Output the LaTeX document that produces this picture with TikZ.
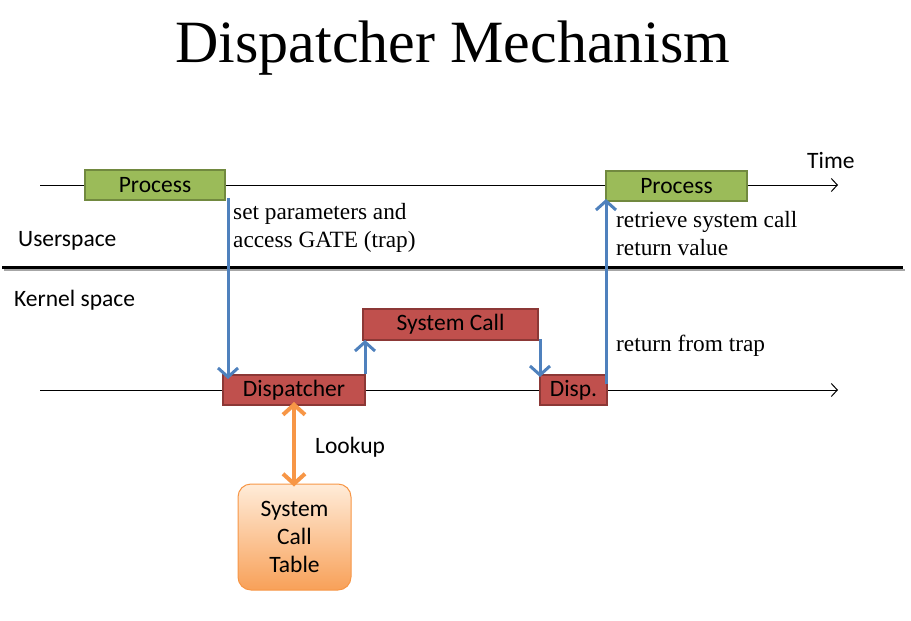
\documentclass[tikz,border=0pt]{standalone}
\usepackage{fontspec}
\setmainfont{Liberation Serif}
\setsansfont{Carlito}
\usepackage{xcolor}
\usetikzlibrary{arrows.meta}

\definecolor{procfill}{HTML}{9BBB59}
\definecolor{procline}{HTML}{71893F}
\definecolor{kernfill}{HTML}{C0504D}
\definecolor{kernline}{HTML}{8C3836}
\definecolor{callblue}{HTML}{4F81BD}
\definecolor{lookorange}{HTML}{F79646}

\tikzset{
  procbox/.style={draw=procline,fill=procfill,line width=2pt,minimum height=30pt,
    font=\sffamily\fontsize{23.5}{26}\selectfont,inner sep=0pt},
  kernbox/.style={draw=kernline,fill=kernfill,line width=2pt,minimum height=30pt,
    font=\sffamily\fontsize{23.5}{26}\selectfont,inner sep=0pt},
  tablebox/.style={draw=lookorange,line width=1pt,rounded corners=13pt,
    top color=orange!15!white,bottom color=lookorange!90!white,
    minimum width=113pt,minimum height=106pt,align=center,
    font=\sffamily\fontsize{23.5}{28}\selectfont},
  callarrow/.style={callblue,line width=3pt,
    -{Straight Barb[length=9pt,width=20pt,line width=3pt]}},
  lookarrow/.style={lookorange,line width=4.5pt,
    {Straight Barb[length=10pt,width=22pt,line width=4pt]}-{Straight Barb[length=10pt,width=22pt,line width=4pt]}},
  timeline/.style={line width=1pt,-{Straight Barb[length=6pt,width=13pt]}},
  note/.style={font=\fontsize{23.3}{28}\selectfont,align=left,inner sep=0pt,anchor=west},
  sidetext/.style={font=\sffamily\fontsize{23.5}{26}\selectfont,inner sep=0pt}
}

\begin{document}
\begin{tikzpicture}[x=1pt,y=-1pt]
\useasboundingbox (0,0) rectangle (911,621);

\node[font=\fontsize{60}{70}\selectfont] (title) at (453,48) {Dispatcher Mechanism};

% user space
\node[procbox,minimum width=140pt] (proc1) at (155,185) {Process};
\node[procbox,minimum width=141pt] (proc2) at (676.5,186) {Process};
\coordinate (ustart) at (40,185);
\coordinate (uend) at (838,185);
\draw[line width=1pt] (ustart) -- (proc1.west);
\draw[line width=1pt] (proc1.east) -- (proc2.west |- proc1.east);
\draw[timeline] (proc2.east |- uend) -- (uend);
\node[sidetext,anchor=west] (time) at (807,160) {Time};
\node[sidetext,anchor=west] (user) at (18,241) {Userspace};

\draw[black!35,line width=2pt] (4,270) -- (905,270);
\draw[line width=3pt] (2,267) -- (903,267);
\node[sidetext,anchor=west] (kern) at (14,300) {Kernel space};

% kernel space
\node[kernbox,minimum width=142pt] (disp) at (294,390) {Dispatcher};
\node[kernbox,minimum width=175pt,minimum height=31pt] (syscall) at (450.5,324.5) {System Call};
\node[kernbox,minimum width=67pt] (disp2) at (573.5,390) {Disp.};
\coordinate (kstart) at (40,390);
\coordinate (kend) at (838,390);
\draw[line width=1pt] (kstart) -- (disp.west);
\draw[line width=1pt] (disp.east) -- (disp2.west);
\draw[timeline] (disp2.east) -- (kend);

\node[tablebox] (table) at (294.5,537) {System\\Call\\Table};

% calls
\draw[callarrow] ([xshift=2pt,yshift=3pt]proc1.south east) -- ([xshift=2pt,yshift=-5pt]proc1.south east |- disp.north);
\draw[callarrow] ([xshift=-1pt]disp.north east) -- ([xshift=-1pt,yshift=1pt]disp.north east |- syscall.south);
\draw[callarrow] ([xshift=1pt,yshift=2pt]syscall.south east) -- ([xshift=1pt,yshift=-3pt]syscall.south east |- disp2.north);
\draw[callarrow] ([xshift=-2pt,yshift=-10pt]disp2.north east) -- ([xshift=-2pt,yshift=3pt]disp2.north east |- proc2.south);
\draw[lookarrow] ([yshift=4pt]disp.south) -- ([yshift=-3pt]disp.south |- table.north);

\node[note] (setp) at (233,228) {set parameters and\\access GATE (trap)};
\node[note] (retr) at (616,234) {retrieve system call\\return value};
\node[note] (rett) at (616,346) {return from trap};
\node[sidetext,anchor=west] (look) at (315,447) {Lookup};

\end{tikzpicture}
\end{document}
